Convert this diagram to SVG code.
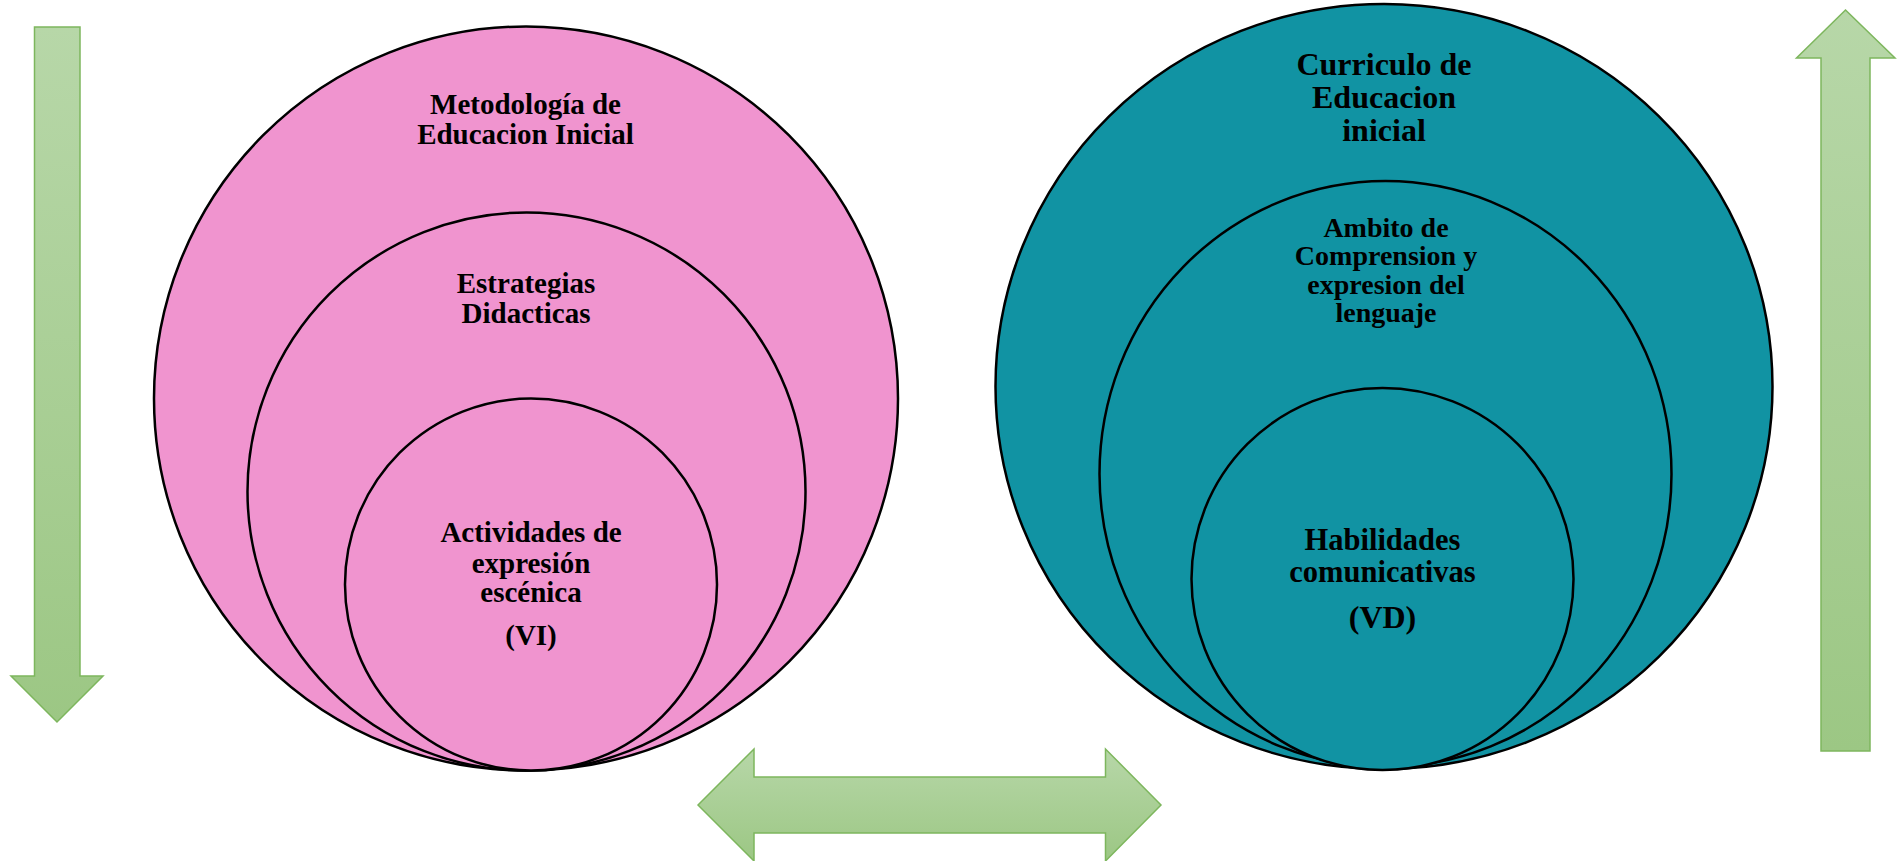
<svg xmlns="http://www.w3.org/2000/svg" width="1898" height="861" viewBox="0 0 1898 861">
  <defs>
    <linearGradient id="gArrow" x1="0" y1="0" x2="0" y2="1">
      <stop offset="0" stop-color="#b7d7a8"/>
      <stop offset="1" stop-color="#9cc784"/>
    </linearGradient>
    <style>
      .pink { fill: #f094cf; stroke: #000; stroke-width: 2.5; }
      .teal { fill: #1193a3; stroke: #000; stroke-width: 2.5; }
      .arrow { fill: url(#gArrow); stroke: #7db65d; stroke-width: 1.5; stroke-linejoin: miter; }
      text { font-family: "Liberation Serif", "Times New Roman", serif; font-weight: bold; fill: #000; text-anchor: middle; }
      .s29 { font-size: 29px; }
      .s28 { font-size: 28px; }
      .s32 { font-size: 32px; }
      .s31 { font-size: 30.5px; }
    </style>
  </defs>

  <g id="connectors">
    <polygon id="arrow-down" class="arrow" points="34.5,27 80,27 80,676 103,676 57,722 11,676 34.5,676"/>
    <polygon id="arrow-up" class="arrow" points="1845.5,10 1895,58 1870,58 1870,751 1821,751 1821,58 1796.5,58"/>
    <polygon id="arrow-both" class="arrow" points="698,805 754,749 754,777 1105.5,777 1105.5,749 1161,805 1105.5,861 1105.5,833 754,833 754,861"/>
  </g>

  <g id="node-metodologia">
    <circle class="pink" cx="526" cy="398.5" r="372"/>
    <text class="s29" x="525.5" y="114">Metodología de</text>
    <text class="s29" x="525.5" y="144">Educacion Inicial</text>
  </g>
  <g id="node-estrategias">
    <circle class="pink" cx="526.5" cy="491.5" r="279"/>
    <text class="s29" x="526" y="293">Estrategias</text>
    <text class="s29" x="526" y="323">Didacticas</text>
  </g>
  <g id="node-actividades">
    <circle class="pink" cx="531" cy="584.5" r="186"/>
    <text class="s29" x="531" y="542">Actividades de</text>
    <text class="s29" x="531" y="572.5">expresión</text>
    <text class="s29" x="531" y="602">escénica</text>
    <text class="s29" x="531" y="645">(VI)</text>
  </g>

  <g id="node-curriculo">
    <ellipse class="teal" cx="1384" cy="386.5" rx="388.5" ry="382.5"/>
    <text class="s32" x="1384" y="75">Curriculo de</text>
    <text class="s32" x="1384" y="108">Educacion</text>
    <text class="s32" x="1384" y="141">inicial</text>
  </g>
  <g id="node-ambito">
    <ellipse class="teal" cx="1385.5" cy="474" rx="286" ry="293"/>
    <text class="s28" x="1386" y="237">Ambito de</text>
    <text class="s28" x="1386" y="265">Comprension y</text>
    <text class="s28" x="1386" y="293.5">expresion del</text>
    <text class="s28" x="1386" y="322">lenguaje</text>
  </g>
  <g id="node-habilidades">
    <circle class="teal" cx="1382.5" cy="579" r="191"/>
    <text class="s31" x="1382.5" y="550">Habilidades</text>
    <text class="s31" x="1382.5" y="581.5">comunicativas</text>
    <text class="s32" x="1382.5" y="628">(VD)</text>
  </g>
</svg>
